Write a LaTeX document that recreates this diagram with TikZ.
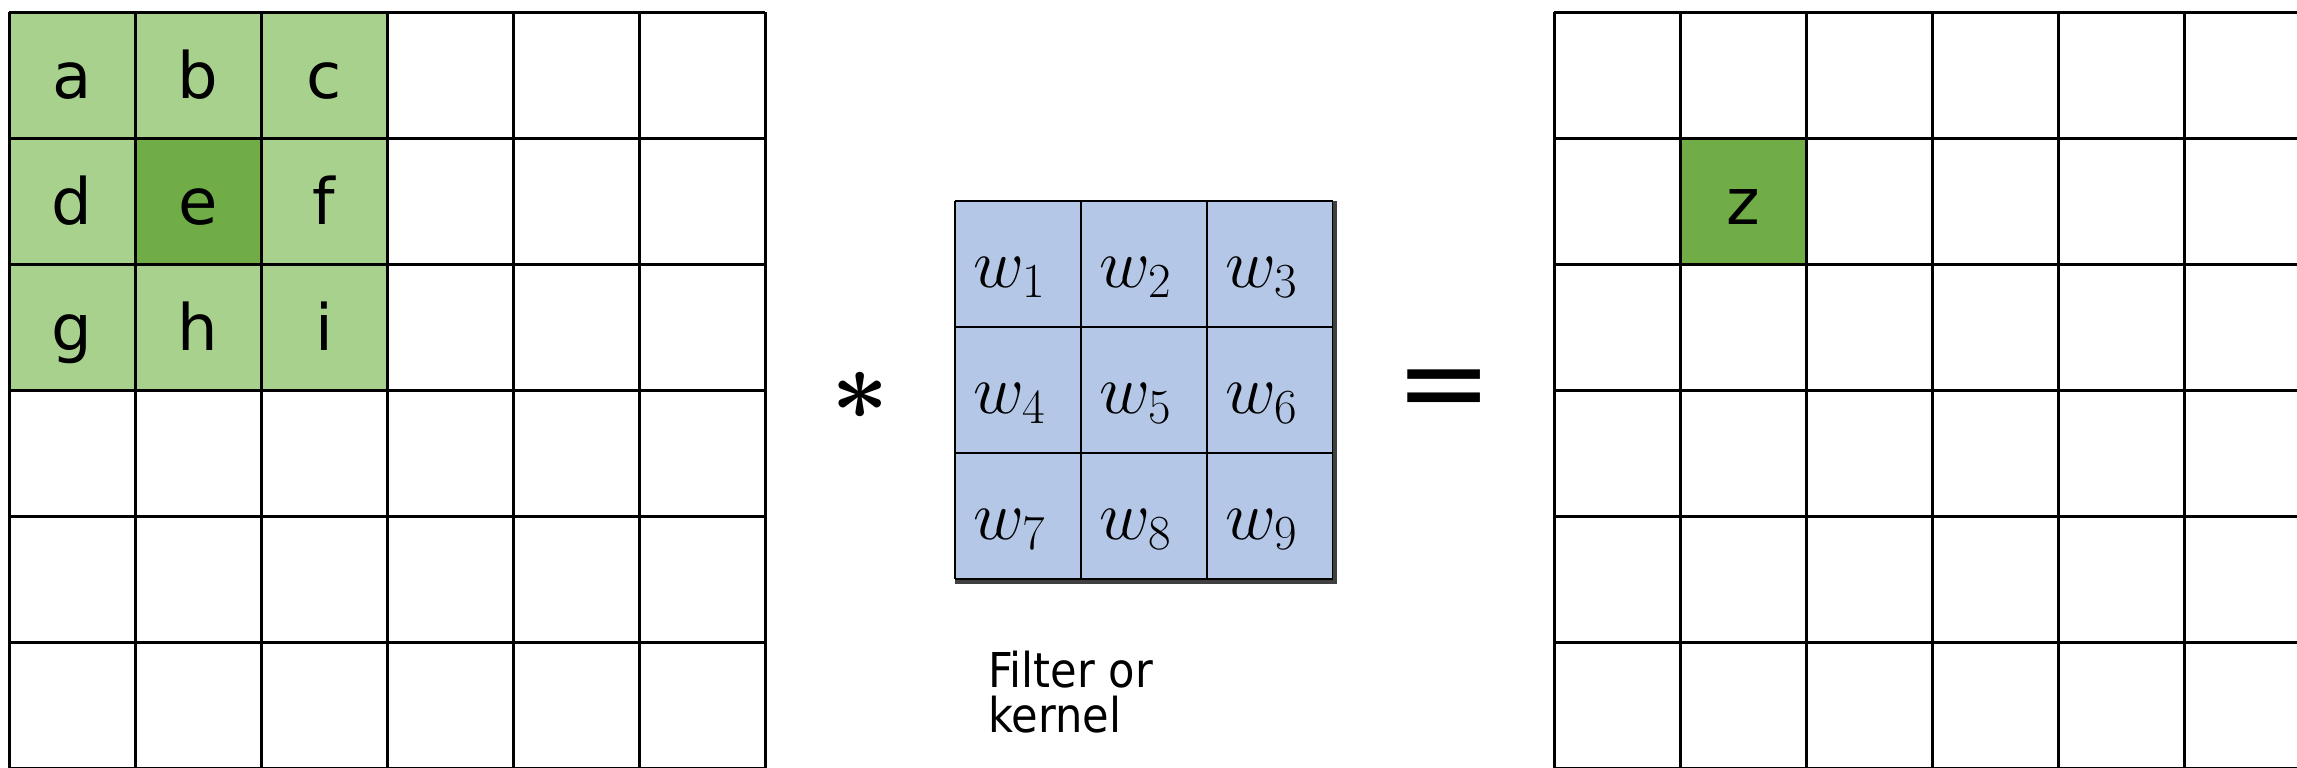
\RequirePackage{fix-cm}
\documentclass[tikz,border=0pt]{standalone}
\usepackage{fontspec}
\setmainfont{DejaVu Sans}
\newfontfamily\labelfont{DejaVu Sans Condensed}
\newfontfamily\opfont{DejaVu Sans}
\definecolor{lightgreen}{HTML}{A9D18E}
\definecolor{darkgreen}{HTML}{70AD47}
\definecolor{kernelblue}{HTML}{B4C7E7}
\tikzset{
  letter/.style={anchor=base, inner sep=0pt, font=\fontsize{32}{38}\selectfont},
  wlabel/.style={anchor=base, inner sep=0pt, font=\fontsize{35}{40}\selectfont},
  gridline/.style={line width=1.5pt, black},
}
\begin{document}
\begin{tikzpicture}[x=0.5pt,y=-0.5pt]
\useasboundingbox (0,0) rectangle (2297,767);
\clip (0,0) rectangle (2297,767);
% ---------- input grid ----------
\foreach \r in {0,1,2}{
  \foreach \c in {0,1,2}{
    \fill[lightgreen] ({9+126*\c},{12+126*\r}) rectangle ++(126,126);
  }
}
\fill[darkgreen] (135,138) rectangle ++(126,126);
\foreach \i in {0,...,6}{
  \draw[gridline] ({9+126*\i},12) -- ({9+126*\i},780);
  \draw[gridline] (9,{12+126*\i}) -- (765,{12+126*\i});
}
\foreach \t [count=\k from 0] in {a,b,c,d,e,f,g,h,i}{
  \pgfmathtruncatemacro{\rr}{int(\k/3)}
  \pgfmathtruncatemacro{\cc}{mod(\k,3)}
  \node[letter] (in\t) at ({72+126*\cc},{98+126*\rr}) {\t};
}
% ---------- operator ----------
\node[inner sep=0pt, font=\boldmath\fontsize{50}{50}\selectfont] (star) at (860,396) {$\ast$};
% ---------- kernel ----------
\fill[kernelblue] (955,201) rectangle (1333,579);
\foreach \i in {0,...,3}{
  \draw[line width=1.3pt] ({955+126*\i},201) -- ({955+126*\i},579);
  \draw[line width=1.3pt] (955,{201+126*\i}) -- (1333,{201+126*\i});
}
\draw[line width=2pt, black!75] (1335,201) -- (1335,582) -- (955,582);
\foreach \k in {1,...,9}{
  \pgfmathtruncatemacro{\rr}{int((\k-1)/3)}
  \pgfmathtruncatemacro{\cc}{mod(\k-1,3)}
  \node[wlabel] (w\k) at ({1010+126*\cc},{287+126*\rr}) {$w_{\k}$};
}
\node[anchor=base west, inner sep=0pt, align=left, font=\labelfont\fontsize{24}{22.5}\selectfont] (caption) at (988,732) {Filter or\\kernel};
% ---------- equals ----------
\node[inner sep=0pt, font=\opfont\fontsize{58}{58}\selectfont] (eq) at (1444,396) {=};
% ---------- output grid ----------
\fill[darkgreen] (1680,138) rectangle ++(126,126);
\foreach \i in {0,...,6}{
  \draw[gridline] ({1554+126*\i},12) -- ({1554+126*\i},780);
  \draw[gridline] (1554,{12+126*\i}) -- (2310,{12+126*\i});
}
\node[letter] (outz) at (1743,224) {z};
\end{tikzpicture}
\end{document}
